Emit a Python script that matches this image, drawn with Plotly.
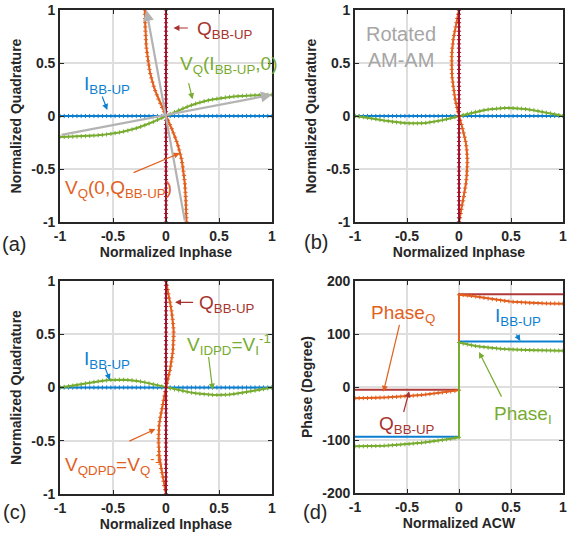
import plotly.graph_objects as go

# ---------------- data ----------------
NORM = [-1.00, -0.96, -0.92, -0.88, -0.84, -0.80, -0.76, -0.72, -0.68, -0.64,
        -0.60, -0.56, -0.52, -0.48, -0.44, -0.40, -0.36, -0.32, -0.28, -0.24,
        -0.20, -0.16, -0.12, -0.08, -0.04, 0.00, 0.04, 0.08, 0.12, 0.16,
        0.20, 0.24, 0.28, 0.32, 0.36, 0.40, 0.44, 0.48, 0.52, 0.56,
        0.60, 0.64, 0.68, 0.72, 0.76, 0.80, 0.84, 0.88, 0.92, 0.96, 1.00]
ZEROS = [0.0] * len(NORM)

# (a) V_Q(I_BB-UP,0): quadrature vs inphase
VQ_I_A = [-0.198, -0.197, -0.196, -0.195, -0.194, -0.192, -0.190, -0.188, -0.185, -0.182,
          -0.178, -0.174, -0.168, -0.162, -0.155, -0.147, -0.138, -0.127, -0.115, -0.101,
          -0.087, -0.071, -0.055, -0.037, -0.019, 0.000, 0.019, 0.037, 0.055, 0.072,
          0.088, 0.102, 0.116, 0.128, 0.139, 0.148, 0.156, 0.163, 0.169, 0.175,
          0.180, 0.184, 0.187, 0.190, 0.192, 0.194, 0.196, 0.197, 0.198, 0.199, 0.200]
# (a) V_Q(0,Q_BB-UP): inphase vs quadrature
VQ_Q_A = [0.194, 0.193, 0.192, 0.191, 0.190, 0.188, 0.186, 0.184, 0.181, 0.178,
          0.174, 0.170, 0.165, 0.159, 0.152, 0.145, 0.136, 0.125, 0.114, 0.100,
          0.086, 0.070, 0.054, 0.036, 0.018, 0.000, -0.019, -0.037, -0.055, -0.072,
          -0.088, -0.102, -0.116, -0.128, -0.139, -0.148, -0.156, -0.163, -0.169, -0.175,
          -0.180, -0.184, -0.187, -0.190, -0.192, -0.194, -0.196, -0.197, -0.198, -0.199, -0.200]
# (b) rotated AM-AM
VQ_I_B = [0.000, -0.005, -0.010, -0.016, -0.022, -0.029, -0.036, -0.043, -0.049, -0.055,
          -0.060, -0.064, -0.067, -0.069, -0.070, -0.070, -0.068, -0.065, -0.060, -0.054,
          -0.047, -0.039, -0.030, -0.020, -0.010, 0.000, 0.010, 0.020, 0.030, 0.039,
          0.047, 0.055, 0.061, 0.066, 0.070, 0.073, 0.075, 0.075, 0.074, 0.072,
          0.069, 0.065, 0.060, 0.054, 0.047, 0.040, 0.032, 0.024, 0.016, 0.008, 0.000]
VQ_Q_B = [0.000, 0.008, 0.016, 0.024, 0.032, 0.040, 0.047, 0.054, 0.060, 0.066,
          0.071, 0.075, 0.078, 0.080, 0.080, 0.080, 0.078, 0.075, 0.070, 0.063,
          0.055, 0.045, 0.035, 0.024, 0.012, 0.000, -0.010, -0.020, -0.029, -0.037,
          -0.044, -0.050, -0.056, -0.061, -0.065, -0.068, -0.070, -0.071, -0.071, -0.070,
          -0.068, -0.065, -0.060, -0.055, -0.048, -0.041, -0.033, -0.025, -0.017, -0.008, 0.000]
# (c) DPD (inverse)
VIDPD_C = [0.000, 0.005, 0.011, 0.017, 0.024, 0.031, 0.038, 0.045, 0.052, 0.058,
           0.063, 0.067, 0.070, 0.072, 0.073, 0.073, 0.071, 0.068, 0.063, 0.056,
           0.048, 0.039, 0.030, 0.020, 0.010, 0.000, -0.009, -0.018, -0.026, -0.034,
           -0.041, -0.048, -0.054, -0.059, -0.064, -0.067, -0.069, -0.070, -0.070, -0.068,
           -0.065, -0.061, -0.056, -0.050, -0.043, -0.036, -0.029, -0.022, -0.015, -0.007, 0.000]
VQDPD_C = [0.000, -0.008, -0.016, -0.024, -0.032, -0.040, -0.047, -0.053, -0.058, -0.062,
           -0.066, -0.068, -0.070, -0.070, -0.070, -0.068, -0.065, -0.060, -0.054, -0.047,
           -0.039, -0.031, -0.023, -0.015, -0.008, 0.000, 0.009, 0.018, 0.027, 0.036,
           0.044, 0.051, 0.057, 0.062, 0.066, 0.069, 0.071, 0.072, 0.072, 0.070,
           0.067, 0.063, 0.058, 0.052, 0.045, 0.038, 0.030, 0.022, 0.015, 0.007, 0.000]

# (d) phase vs normalized ACW
ACW_NEG = [-1.00, -0.96, -0.92, -0.88, -0.84, -0.80, -0.76, -0.72, -0.68, -0.64,
           -0.60, -0.56, -0.52, -0.48, -0.44, -0.40, -0.36, -0.32, -0.28, -0.24,
           -0.20, -0.16, -0.12, -0.08, -0.04, 0.00]
ACW_POS = [0.00, 0.04, 0.08, 0.12, 0.16, 0.20, 0.24, 0.28, 0.32, 0.36,
           0.40, 0.44, 0.48, 0.52, 0.56, 0.60, 0.64, 0.68, 0.72, 0.76,
           0.80, 0.84, 0.88, 0.92, 0.96, 1.00]
PHASE_Q_NEG = [-21.0, -21.0, -20.9, -20.8, -20.6, -20.4, -20.1, -19.8, -19.5, -19.1,
               -18.6, -18.1, -17.5, -16.9, -16.3, -15.6, -14.9, -14.1, -13.2, -12.3,
               -11.4, -10.4, -9.4, -8.3, -7.2, -6.0]
PHASE_Q_POS = [174.0, 173.6, 172.9, 171.9, 170.8, 169.5, 168.2, 166.9, 165.7, 164.5,
               163.4, 162.4, 161.6, 160.8, 160.2, 159.6, 159.1, 158.7, 158.4, 158.1,
               157.9, 157.7, 157.6, 157.5, 157.4, 157.3]
PHASE_I_NEG = [-112.0, -112.0, -111.9, -111.8, -111.6, -111.3, -111.0, -110.7, -110.3, -109.8,
               -109.3, -108.7, -108.1, -107.4, -106.7, -105.9, -105.0, -104.1, -103.2, -102.2,
               -101.1, -100.0, -98.8, -97.6, -96.3, -95.0]
PHASE_I_POS = [84.0, 82.0, 80.3, 78.7, 77.4, 76.2, 75.2, 74.3, 73.5, 72.8,
               72.2, 71.7, 71.2, 70.8, 70.5, 70.2, 69.9, 69.7, 69.5, 69.3,
               69.1, 69.0, 68.9, 68.7, 68.7, 68.6]
STEP_X = [-1.0, 0.0, 0.0, 1.0]
QBB_PHASE = [-5.0, -5.0, 175.0, 175.0]
IBB_PHASE = [-94.0, -94.0, 86.0, 86.0]

# ---------------- style ----------------
BLUE = "#0C7FD0"
ORANGE = "#E2601E"
GREEN = "#77AC30"
RED = "#A2142F"
RED_TXT = "#A8332E"
GRAY = "#B3B3B3"
FONT = "Liberation Sans, Arial, sans-serif"

fig = go.Figure()


def beaded(x, y, color, xa, ya, width=2):
    fig.add_trace(go.Scatter(
        x=x, y=y, mode="lines+markers", xaxis=xa, yaxis=ya,
        line=dict(color=color, width=width),
        marker=dict(symbol="cross-thin", size=3, line=dict(color=color, width=1)),
        showlegend=False, hoverinfo="skip"))


def plain(x, y, color, xa, ya, width=2):
    fig.add_trace(go.Scatter(
        x=x, y=y, mode="lines", xaxis=xa, yaxis=ya,
        line=dict(color=color, width=width), showlegend=False, hoverinfo="skip"))


# (a)
beaded(NORM, ZEROS, BLUE, "x", "y")
beaded(NORM, VQ_I_A, GREEN, "x", "y")
beaded(VQ_Q_A, NORM, ORANGE, "x", "y")
beaded(ZEROS, NORM, RED, "x", "y")
# (b)
beaded(NORM, ZEROS, BLUE, "x2", "y2")
beaded(NORM, VQ_I_B, GREEN, "x2", "y2")
beaded(VQ_Q_B, NORM, ORANGE, "x2", "y2")
beaded(ZEROS, NORM, RED, "x2", "y2")
# (c)
beaded(NORM, ZEROS, BLUE, "x3", "y3")
beaded(NORM, VIDPD_C, GREEN, "x3", "y3")
beaded(VQDPD_C, NORM, ORANGE, "x3", "y3")
beaded(ZEROS, NORM, RED, "x3", "y3")
# (d)
plain(STEP_X, QBB_PHASE, "#B03A3A", "x4", "y4")
plain(STEP_X, IBB_PHASE, BLUE, "x4", "y4")
beaded(ACW_NEG + ACW_POS, PHASE_Q_NEG + PHASE_Q_POS, ORANGE, "x4", "y4")
beaded(ACW_NEG + ACW_POS, PHASE_I_NEG + PHASE_I_POS, GREEN, "x4", "y4")

# ---------------- axes ----------------
W, H = 569, 542
def xd(l, r):
    return [l / W, r / W]
def yd(t, b):
    return [1 - b / H, 1 - t / H]

axis_common = dict(
    showline=True, linecolor="#262626", linewidth=1.6, mirror="ticks",
    ticks="inside", ticklen=4, tickwidth=1.2, tickcolor="#262626",
    showgrid=True, gridcolor="#DEDEDE", gridwidth=1.5, zeroline=False,
    tickfont=dict(family=FONT, size=14, color="#262626", weight="bold"),
    automargin=False, ticklabeloverflow="allow",
)
tickvals_norm = [-1, -0.5, 0, 0.5, 1]
ticktext_norm = ["-1", "-0.5", "0", "0.5", "1"]

def xaxis(dom, anchor, title):
    return dict(axis_common, domain=dom, anchor=anchor, range=[-1, 1],
                tickvals=tickvals_norm, ticktext=ticktext_norm,
                title=dict(text=title, standoff=3,
                           font=dict(family=FONT, size=14, color="#262626", weight="bold")))

def yaxis(dom, anchor, title, rng, tv, tt):
    return dict(axis_common, domain=dom, anchor=anchor, range=rng,
                tickvals=tv, ticktext=tt,
                title=dict(text=title, standoff=6,
                           font=dict(family=FONT, size=14, color="#262626", weight="bold")))

fig.update_layout(
    width=W, height=H, margin=dict(l=0, r=0, t=0, b=0),
    paper_bgcolor="white", plot_bgcolor="white",
    xaxis=xaxis(xd(60, 272), "y", "Normalized Inphase"),
    yaxis=yaxis(yd(10, 222), "x", "Normalized Quadrature", [-1, 1], tickvals_norm, ticktext_norm),
    xaxis2=xaxis(xd(355, 563), "y2", "Normalized Inphase"),
    yaxis2=yaxis(yd(10, 222), "x2", "Normalized Quadrature", [-1, 1], tickvals_norm, ticktext_norm),
    xaxis3=xaxis(xd(60, 272), "y3", "Normalized Inphase"),
    yaxis3=yaxis(yd(281, 494), "x3", "Normalized Quadrature", [-1, 1], tickvals_norm, ticktext_norm),
    xaxis4=xaxis(xd(355, 563), "y4", "Normalized ACW"),
    yaxis4=yaxis(yd(281, 493), "x4", "Phase (Degree)", [-200, 200],
                 [-200, -100, 0, 100, 200],
                 ["-200", "-100", "0", "100", "200"]),
)

# ---------------- annotations ----------------
ann = []

def label(xr, yr, x, y, text, color, size=19):
    ann.append(dict(xref=xr, yref=yr, x=x, y=y, text=text, showarrow=False,
                    xanchor="left", yanchor="middle",
                    font=dict(family=FONT, size=size, color=color)))

def arrow(xr, yr, x0, y0, x1, y1, color, width=1.2, head=2, size=1.0):
    ann.append(dict(xref=xr, yref=yr, axref=xr, ayref=yr, x=x1, y=y1, ax=x0, ay=y0,
                    text="", showarrow=True, arrowhead=head, arrowsize=size,
                    arrowwidth=width, arrowcolor=color))

# (a)
arrow("x", "y", -1.0, -0.18, 1.0, 0.2, GRAY, width=2.2, size=1.0)
arrow("x", "y", 0.18, -1.0, -0.185, 1.0, GRAY, width=2.2, size=1.0)
label("x", "y", 0.27, 0.81, "Q<sub>BB-UP</sub>", RED_TXT)
arrow("x", "y", 0.22, 0.83, 0.07, 0.83, RED_TXT)
label("x", "y", -0.79, 0.29, "I<sub>BB-UP</sub>", BLUE)
arrow("x", "y", -0.607, 0.198, -0.554, 0.057, BLUE)
label("x", "y", 0.115, 0.48, "V<sub>Q</sub>(I<sub>BB-UP</sub>,0)", GREEN)
arrow("x", "y", 0.21, 0.324, 0.25, 0.158, GREEN)
label("x", "y", -0.97, -0.69, "V<sub>Q</sub>(0,Q<sub>BB-UP</sub>)", ORANGE)
arrow("x", "y", -0.32, -0.54, 0.13, -0.35, ORANGE)
# (b)
ann.append(dict(xref="x2", yref="y2", x=-0.56, y=0.65, text="Rotated<br>AM-AM",
                showarrow=False, align="center",
                font=dict(family=FONT, size=20, color="#A6A6A6")))
# (c)
label("x3", "y3", 0.29, 0.78, "Q<sub>BB-UP</sub>", RED_TXT)
arrow("x3", "y3", 0.27, 0.80, 0.085, 0.80, RED_TXT)
label("x3", "y3", -0.79, 0.26, "I<sub>BB-UP</sub>", BLUE)
arrow("x3", "y3", -0.58, 0.2, -0.53, 0.07, BLUE)
label("x3", "y3", 0.18, 0.40, "V<sub>IDPD</sub>=V<sub>I</sub><sup>-1</sup>", GREEN)
arrow("x3", "y3", 0.40, 0.30, 0.44, -0.02, GREEN)
label("x3", "y3", -0.97, -0.72, "V<sub>QDPD</sub>=V<sub>Q</sub><sup>-1</sup>", ORANGE)
arrow("x3", "y3", -0.36, -0.51, -0.10, -0.39, ORANGE)
# (d)
label("x4", "y4", -0.867, 137, "Phase<sub>Q</sub>", ORANGE)
arrow("x4", "y4", -0.569, 120, -0.726, -9, ORANGE)
label("x4", "y4", -0.79, -72, "Q<sub>BB-UP</sub>", RED_TXT)
arrow("x4", "y4", -0.536, -50, -0.479, -8, RED_TXT)
label("x4", "y4", 0.33, 132, "I<sub>BB-UP</sub>", BLUE)
arrow("x4", "y4", 0.543, 102, 0.59, 87, BLUE)
label("x4", "y4", 0.32, -53, "Phase<sub>I</sub>", GREEN)
arrow("x4", "y4", 0.416, -21, 0.193, 66, GREEN)

# panel letters
for txt, px, py in [("(a)", 14, 244), ("(b)", 316, 242), ("(c)", 14, 512), ("(d)", 315, 512)]:
    ann.append(dict(xref="paper", yref="paper", x=px / W, y=1 - py / H, text=txt,
                    showarrow=False, xanchor="center", yanchor="middle",
                    font=dict(family=FONT, size=20, color="#262626")))

fig.update_layout(annotations=ann)
fig.write_html("out.html", config={"displayModeBar": False},
               post_script="document.body.style.margin='0';document.body.style.padding='0';")
